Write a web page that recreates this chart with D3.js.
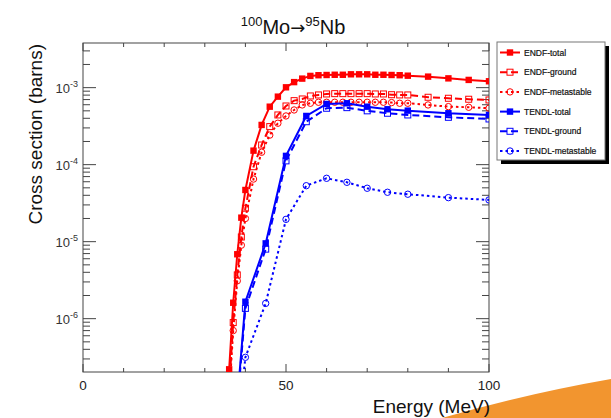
<!DOCTYPE html>
<html>
<head>
<meta charset="utf-8">
<title>100Mo to 95Nb</title>
<script src="https://d3js.org/d3.v7.min.js"></script>
<style>
body { margin: 0; background: #fff; }
svg { display: block; font-family: "Liberation Sans", Arial, sans-serif; }
</style>
</head>
<body>
<svg id="chart" width="611" height="418"></svg>
<script>
// energies (MeV)
var endfE = [35, 36, 37, 38, 39, 40, 42, 44, 46, 48, 50, 52, 54, 56, 58, 60, 62, 64, 66, 68, 70, 72, 74, 76, 78, 80, 85, 90, 95, 100];
var tendlE = [35, 40, 45, 50, 55, 60, 65, 70, 75, 80, 90, 100];

// cross sections (barns)
var endfTotal = [1e-8, 2.2e-7, 1.61e-6, 6.86e-6, 2.05e-5, 4.69e-5, 1.52e-4, 3.28e-4, 5.66e-4, 7.64e-4, 1.01e-3, 1.18e-3, 1.31e-3, 1.42e-3, 1.45e-3, 1.46e-3, 1.47e-3, 1.47e-3, 1.49e-3, 1.49e-3, 1.49e-3, 1.47e-3, 1.47e-3, 1.46e-3, 1.45e-3, 1.43e-3, 1.39e-3, 1.32e-3, 1.26e-3, 1.21e-3];
var endfGround = [5e-9, 1.25e-7, 8.9e-7, 3.7e-6, 1.15e-5, 2.72e-5, 9.4e-5, 1.8e-4, 3.12e-4, 4.42e-4, 5.78e-4, 6.78e-4, 7.13e-4, 7.8e-4, 8.04e-4, 8.28e-4, 8.36e-4, 8.36e-4, 8.36e-4, 8.36e-4, 8.36e-4, 8.28e-4, 8.28e-4, 8.1e-4, 8.04e-4, 8.04e-4, 7.5e-4, 7.28e-4, 7.07e-4, 6.92e-4];
var endfMeta = [4e-9, 1.0e-7, 7.0e-7, 3.1e-6, 9.0e-6, 2.0e-5, 6.5e-5, 1.45e-4, 2.42e-4, 3.45e-4, 4.29e-4, 5.13e-4, 5.96e-4, 6.27e-4, 6.46e-4, 6.46e-4, 6.46e-4, 6.46e-4, 6.46e-4, 6.46e-4, 6.46e-4, 6.46e-4, 6.46e-4, 6.4e-4, 6.27e-4, 6.27e-4, 5.96e-4, 5.67e-4, 5.56e-4, 5.4e-4];
var tendlTotal = [1e-9, 1.66e-6, 9.5e-6, 1.3e-4, 4.29e-4, 6.14e-4, 6.27e-4, 5.66e-4, 5.24e-4, 5.03e-4, 4.65e-4, 4.42e-4];
var tendlGround = [1e-9, 1.36e-6, 8.0e-6, 1.12e-4, 3.61e-4, 5.4e-4, 5.5e-4, 5.0e-4, 4.65e-4, 4.42e-4, 4.12e-4, 3.92e-4];
var tendlMeta = [1e-9, 3.15e-7, 1.58e-6, 1.95e-5, 5.33e-5, 6.65e-5, 5.9e-5, 4.94e-5, 4.38e-5, 4.13e-5, 3.73e-5, 3.48e-5];

var seriesNames = ["ENDF-total", "ENDF-ground", "ENDF-metastable", "TENDL-total", "TENDL-ground", "TENDL-metastable"];
var xTicks = [0, 50, 100];
var yTicks = [-3, -4, -5, -6];

var red = "#ff0000", blue = "#0000ff";
var series = [
	{name: seriesNames[0], e: endfE, v: endfTotal, color: red, dash: null, marker: "fsq"},
	{name: seriesNames[1], e: endfE, v: endfGround, color: red, dash: "7,4", marker: "osq"},
	{name: seriesNames[2], e: endfE, v: endfMeta, color: red, dash: "2.5,3", marker: "ocir"},
	{name: seriesNames[3], e: tendlE, v: tendlTotal, color: blue, dash: null, marker: "fsq"},
	{name: seriesNames[4], e: tendlE, v: tendlGround, color: blue, dash: "7,4", marker: "osq"},
	{name: seriesNames[5], e: tendlE, v: tendlMeta, color: blue, dash: "2.5,3", marker: "ocir"}
];

var svg = d3.select("#chart");
var pLeft = 83, pRight = 489, pTop = 43, pBottom = 372;

var x = d3.scaleLinear().domain([0, 100]).range([pLeft, pRight]);
var y = d3.scaleLog().domain([2.03e-7, 3.8e-3]).range([pBottom, pTop]);

// orange slide decoration
svg.append("path")
	.attr("d", "M442,418 Q525,394 611,379 L611,418 Z")
	.attr("fill", "#f2952f");

svg.append("clipPath").attr("id", "plotclip")
	.append("rect").attr("x", pLeft).attr("y", pTop).attr("width", pRight - pLeft).attr("height", pBottom - pTop);

// frame
svg.append("rect").attr("x", pLeft).attr("y", pTop).attr("width", pRight - pLeft).attr("height", pBottom - pTop)
	.attr("fill", "none").attr("stroke", "#444").attr("stroke-width", 1);

// x ticks (bottom + top, inward)
var xt = svg.append("g").attr("stroke", "#444").attr("stroke-width", 1);
d3.range(0, 101, 10).forEach(function(t){
	var len = (t % 50 == 0) ? 8 : 4;
	xt.append("line").attr("x1", x(t)).attr("x2", x(t)).attr("y1", pBottom).attr("y2", pBottom - len);
	xt.append("line").attr("x1", x(t)).attr("x2", x(t)).attr("y1", pTop).attr("y2", pTop + len);
});
svg.selectAll(".xlab").data(xTicks).enter().append("text")
	.attr("x", function(d){ return x(d); }).attr("y", 390)
	.attr("text-anchor", "middle").attr("font-size", 13.5).attr("fill", "#222")
	.text(function(d){ return d; });

// y ticks (left + right, inward)
var yt = svg.append("g").attr("stroke", "#444").attr("stroke-width", 1);
for (var p = -7; p <= -3; p++) {
	for (var m = 1; m < 10; m++) {
		var v = m * Math.pow(10, p);
		if (v < y.domain()[0] || v > y.domain()[1]) continue;
		var len = (m == 1) ? 13 : 7;
		yt.append("line").attr("x1", pLeft).attr("x2", pLeft + len).attr("y1", y(v)).attr("y2", y(v));
		yt.append("line").attr("x1", pRight).attr("x2", pRight - len).attr("y1", y(v)).attr("y2", y(v));
	}
}
var ylab = svg.selectAll(".ylab").data(yTicks).enter().append("text")
	.attr("x", 78).attr("y", function(d){ return y(Math.pow(10, d)) + 5; })
	.attr("text-anchor", "end").attr("font-size", 13).attr("fill", "#333");
ylab.append("tspan").text("10");
ylab.append("tspan").attr("font-size", 9).attr("dy", -6).text(function(d){ return "-" + Math.abs(d); });

// axis titles
svg.append("text").attr("x", 490).attr("y", 413).attr("text-anchor", "end")
	.attr("font-size", 19).attr("fill", "#111").text("Energy (MeV)");
svg.append("text").attr("transform", "translate(42,44) rotate(-90)").attr("text-anchor", "end")
	.attr("font-size", 19).attr("fill", "#111").text("Cross section (barns)");

// title
var title = svg.append("text").attr("x", 293).attr("y", 34).attr("text-anchor", "middle")
	.attr("font-size", 20).attr("fill", "#111");
title.append("tspan").attr("font-size", 13).attr("dy", -8).text("100");
title.append("tspan").attr("dy", 8).text("Mo");
title.append("tspan").attr("font-family", "DejaVu Sans").attr("font-size", 18).text("\u2192");
title.append("tspan").attr("font-size", 13).attr("dy", -8).text("95");
title.append("tspan").attr("dy", 8).text("Nb");

// curves
var line = d3.line().x(function(d){ return x(d[0]); }).y(function(d){ return y(d[1]); });
var plot = svg.append("g").attr("clip-path", "url(#plotclip)");

function drawMarker(g, kind, cx, cy, color) {
	if (kind == "fsq") {
		g.append("rect").attr("x", cx - 3.2).attr("y", cy - 3.2).attr("width", 6.4).attr("height", 6.4).attr("fill", color);
	} else if (kind == "osq") {
		g.append("rect").attr("x", cx - 3).attr("y", cy - 3).attr("width", 6).attr("height", 6)
			.attr("fill", "none").attr("stroke", color).attr("stroke-width", 1);
	} else {
		g.append("circle").attr("cx", cx).attr("cy", cy).attr("r", 3.2)
			.attr("fill", "none").attr("stroke", color).attr("stroke-width", 1);
	}
}

series.forEach(function(s){
	var pts = s.e.map(function(e, i){ return [e, s.v[i]]; });
	plot.append("path").datum(pts).attr("d", line)
		.attr("fill", "none").attr("stroke", s.color).attr("stroke-width", 2)
		.attr("stroke-dasharray", s.dash);
	pts.forEach(function(d){ drawMarker(plot, s.marker, x(d[0]), y(d[1]), s.color); });
});

// legend
var lg = svg.append("g");
lg.append("rect").attr("x", 501).attr("y", 46).attr("width", 108).attr("height", 118).attr("fill", "#000");
lg.append("rect").attr("x", 497).attr("y", 42).attr("width", 108).attr("height", 118)
	.attr("fill", "#fff").attr("stroke", "#777").attr("stroke-width", 1);
series.forEach(function(s, i){
	var cy = 52.5 + i * 19.7;
	lg.append("line").attr("x1", 500).attr("x2", 520).attr("y1", cy).attr("y2", cy)
		.attr("stroke", s.color).attr("stroke-width", 2).attr("stroke-dasharray", s.dash);
	drawMarker(lg, s.marker, 510, cy, s.color);
	lg.append("text").attr("x", 524).attr("y", cy + 3).attr("font-size", 8.5).attr("fill", "#111")
		.attr("stroke", "#111").attr("stroke-width", 0.2)
		.text(s.name);
});
</script>
</body>
</html>
